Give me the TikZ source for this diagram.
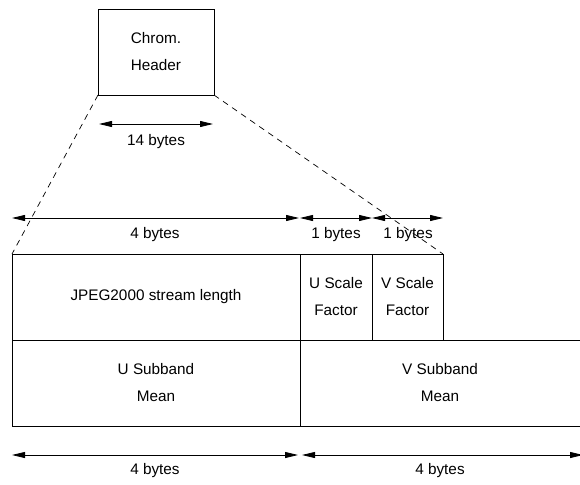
\documentclass[tikz,border=0pt]{standalone}
\usepackage{fontspec}
\setmainfont{Liberation Sans}
\usetikzlibrary{arrows.meta}
\begin{document}
\begin{tikzpicture}[x=1pt,y=-1pt,
  every node/.style={font=\fontsize{15.3}{27}\selectfont, inner sep=0pt, outer sep=0pt},
  field/.style={draw, line width=0.8pt, anchor=north west, align=center},
  dim/.style={line width=0.8pt, {Triangle[length=13pt,width=6pt]}-{Triangle[length=13pt,width=6pt]}},
  guide/.style={dashed, line width=0.7pt, dash pattern=on 6pt off 5pt}]
\useasboundingbox (0,0) rectangle (580,484);
\clip (0,0) rectangle (580,484);
% header box
\node[field, minimum width=116pt, minimum height=86pt] (chrom) at (98,9) {Chrom.\\Header};
% top row
\node[field, minimum width=288pt, minimum height=86pt] (jpeg) at (12,254) {JPEG2000 stream length};
\node[field, minimum width=72pt, minimum height=86pt] (uscale) at (300,254) {U Scale\\Factor};
\node[field, minimum width=71pt, minimum height=86pt] (vscale) at (372,254) {V Scale\\Factor};
% bottom row
\node[field, minimum width=288pt, minimum height=86pt] (usub) at (12,340) {U Subband\\Mean};
\node[field, draw=none, minimum width=280pt, minimum height=86pt] (vsub) at (300,340) {V Subband\\Mean};
\draw[line width=0.8pt] ([xshift=10pt]vsub.north east) -- (vsub.north west) -- (vsub.south west) -- ([xshift=10pt]vsub.south east);
% dashed guides
\draw[guide] (chrom.south west) -- (jpeg.north west);
\draw[guide] (chrom.south east) -- (vscale.north east);
% dimension arrows
\coordinate (h1) at (99,124); \coordinate (h2) at (213,124);
\draw[dim] (h1) -- (h2);
\node (hl) at (156,142) {14 bytes};
\coordinate (a1) at (12,218); \coordinate (a2) at (299,218);
\coordinate (b1) at (300,218); \coordinate (b2) at (372,218);
\coordinate (c1) at (372,218); \coordinate (c2) at (443,218);
\draw[dim] (a1) -- (a2);
\draw[dim] (b1) -- (b2);
\draw[dim] (c1) -- (c2);
\node (al) at (155,235) {4 bytes};
\node (bl) at (336,235) {1 bytes};
\node (cl) at (408,235) {1 bytes};
\coordinate (d1) at (12,455); \coordinate (d2) at (298,455);
\coordinate (e1) at (302,455); \coordinate (e2) at (583,455);
\draw[dim] (d1) -- (d2);
\draw[dim] (e1) -- (e2);
\node (dl) at (155,471) {4 bytes};
\node (el) at (440,471) {4 bytes};
\end{tikzpicture}
\end{document}
